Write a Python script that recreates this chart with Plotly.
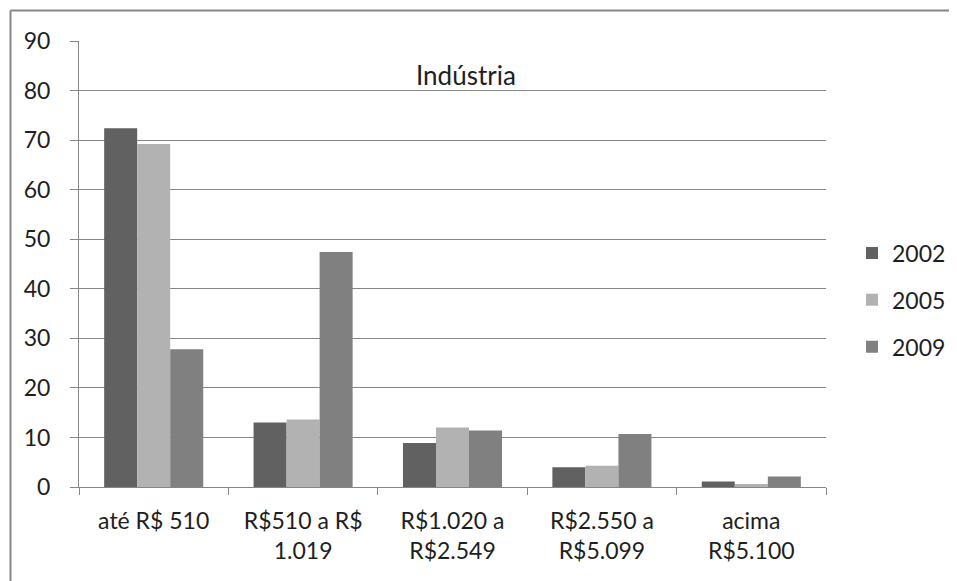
import plotly.graph_objects as go

categories = ["até R$ 510", "R$510 a R$<br>1.019", "R$1.020 a<br>R$2.549", "R$2.550 a<br>R$5.099", "acima<br>R$5.100"]
series_names = ["2002", "2005", "2009"]
values_2002 = [72.4, 13.0, 8.9, 4.0, 1.1]
values_2005 = [69.2, 13.6, 12.0, 4.3, 0.6]
values_2009 = [27.8, 47.4, 11.4, 10.7, 2.1]
colors = ["#616161", "#b2b2b2", "#808080"]
y_ticks = [0, 10, 20, 30, 40, 50, 60, 70, 80, 90]
title_text = "Indústria"

FONT = "Lato"
TXT = "#1e1e1e"
OFF = 8  # page body margin
W, H = 957, 581
# plot area in window pixel coords
L, R, T, B = 79, 826, 41, 487

fig = go.Figure()
for i, (name, vals) in enumerate(zip(series_names, [values_2002, values_2005, values_2009])):
    fig.add_trace(go.Bar(
        x=categories, y=vals, name=name, marker=dict(color=colors[i], line=dict(width=0)),
        legendgroup=name,
    ))

def px_x(p):
    return (p - L) / (R - L)

def px_y(p):
    return (B - p) / (B - T)

fig.update_layout(
    width=W, height=H,
    margin=dict(l=L - OFF, r=W - R + OFF, t=T - OFF, b=H - B + OFF, pad=0),
    paper_bgcolor="white", plot_bgcolor="white",
    barmode="group", bargap=0.337, bargroupgap=0,
    font=dict(family=FONT, size=23, color=TXT),
    showlegend=True,
    legend=dict(
        x=px_x(852), y=px_y(300), xanchor="left", yanchor="middle",
        font=dict(family=FONT, size=23, color=TXT),
        tracegroupgap=14, traceorder="grouped", itemwidth=30,
        bgcolor="rgba(0,0,0,0)",
    ),
    xaxis=dict(
        showline=True, linecolor="#868686", linewidth=1,
        ticks="outside", ticklen=7, tickcolor="#868686", tickson="boundaries",
        tickfont=dict(family=FONT, size=23, color=TXT),
        ticklabelstandoff=13,
        showgrid=False, fixedrange=True,
    ),
    yaxis=dict(
        range=[0, 90], tickvals=y_ticks,
        showline=True, linecolor="#868686", linewidth=1,
        ticks="outside", ticklen=8, tickcolor="#868686",
        showgrid=True, gridcolor="#868686", gridwidth=1,
        zeroline=False,
        tickfont=dict(family=FONT, size=23, color=TXT),
        ticklabelstandoff=15,
    ),
    annotations=[dict(
        text=title_text, xref="paper", yref="paper",
        x=px_x(466), y=px_y(75), xanchor="center", yanchor="middle",
        showarrow=False, font=dict(family=FONT, size=26, color=TXT),
    )],
    shapes=[
        dict(type="line", xref="paper", yref="paper",
             x0=px_x(10.5), y0=px_y(620), x1=px_x(10.5), y1=px_y(10.5),
             line=dict(color="#878787", width=2)),
        dict(type="line", xref="paper", yref="paper",
             x0=px_x(10.5), y0=px_y(10.5), x1=px_x(990), y1=px_y(10.5),
             line=dict(color="#878787", width=2)),
    ],
)

fig.write_html("out.html")
